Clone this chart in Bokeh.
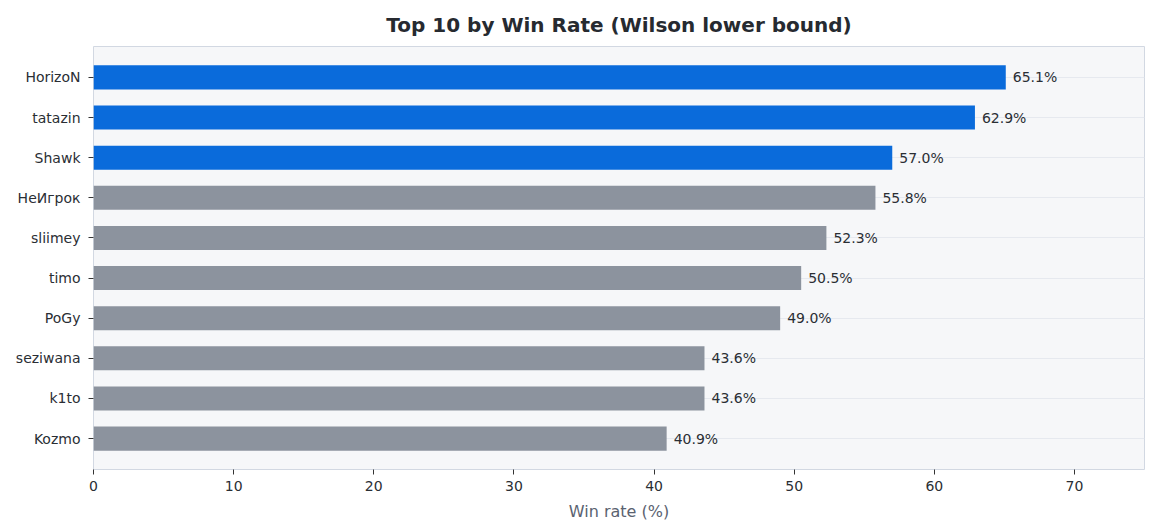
from bokeh.plotting import figure
from bokeh.models import ColumnDataSource, Range1d, FixedTicker, LabelSet
from bokeh.core.properties import value
from bokeh.embed import file_html
from bokeh.resources import INLINE

players = ["HorizoN", "tatazin", "Shawk", "НеИгрок", "sliimey", "timo", "PoGy", "seziwana", "k1to", "Kozmo"]
win_rates = [65.1, 62.9, 57.0, 55.8, 52.3, 50.5, 49.0, 43.6, 43.6, 40.9]
highlight = [True, True, True, False, False, False, False, False, False, False]
x_ticks = [0, 10, 20, 30, 40, 50, 60, 70]

BLUE = "#0a6bdb"
GRAY = "#8c939e"
n = len(players)
ypos = [n - 1 - i for i in range(n)]
src = ColumnDataSource(dict(
    y=ypos, v=win_rates,
    color=[BLUE if h else GRAY for h in highlight],
    lab=[f"{v:.1f}%" for v in win_rates],
))

FONT = "DejaVu Sans"
p = figure(frame_width=1051, frame_height=423, output_backend="svg", toolbar_location=None,
           x_range=Range1d(0, 75), y_range=Range1d(-0.77, n - 1 + 0.77),
           title="Top 10 by Win Rate (Wilson lower bound)",
           min_border_left=93, min_border_right=13, min_border_top=46, min_border_bottom=62)
p.hbar(y="y", right="v", left=0, height=0.6, color="color", line_color=None, source=src)
labels = LabelSet(x="v", y="y", text="lab", source=src, x_offset=7, y_offset=0,
                  text_baseline="middle", text_font_size="14px", text_color="#2a2e34",
                  text_font=value(FONT))
p.add_layout(labels)

p.title.align = "center"
p.title.text_font = FONT
p.title.text_font_size = "20px"
p.title.text_font_style = "bold"
p.title.text_color = "#262a30"
p.title.offset = 0
p.title.standoff = 20

p.background_fill_color = "#f6f7f9"
p.border_fill_color = "white"
p.outline_line_color = "#d2d8e2"
p.outline_line_width = 1

p.xgrid.grid_line_color = None
p.ygrid.grid_line_color = "#e6e9ef"
p.ygrid.ticker = FixedTicker(ticks=ypos)

p.yaxis.ticker = FixedTicker(ticks=ypos)
p.yaxis.major_label_overrides = {y: name for y, name in zip(ypos, players)}
p.xaxis.ticker = FixedTicker(ticks=x_ticks)
p.xaxis.axis_label = "Win rate (%)"
p.xaxis.axis_label_text_font = FONT
p.xaxis.axis_label_text_font_size = "16px"
p.xaxis.axis_label_text_font_style = "normal"
p.xaxis.axis_label_text_color = "#5a6270"
p.xaxis.axis_label_standoff = 8
for ax in (p.xaxis, p.yaxis):
    ax.axis_line_color = None
    ax.major_tick_line_color = "#333333"
    ax.major_tick_in = 0
    ax.major_tick_out = 5
    ax.minor_tick_line_color = None
    ax.major_label_text_font = FONT
    ax.major_label_text_font_size = "14px"
    ax.major_label_text_color = "#2a2e34"
p.xaxis.major_label_standoff = 6
p.yaxis.major_label_standoff = 8

open("out.html", "w").write(file_html(p, INLINE))
